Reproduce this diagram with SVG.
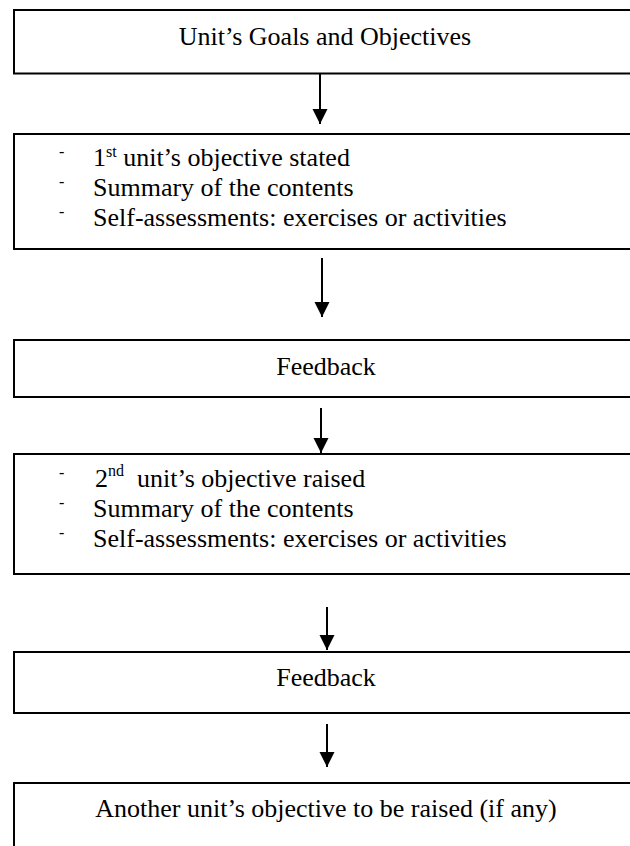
<svg xmlns="http://www.w3.org/2000/svg" width="630" height="846" viewBox="0 0 630 846">
<style>
.box{fill:#fff;stroke:#000;stroke-width:2}
.t{font-family:"Liberation Serif","Times New Roman",serif;font-size:26px;fill:#000}
.c{text-anchor:middle}
.d{font-family:"Liberation Serif","Times New Roman",serif;font-size:16px;fill:#000}
.sup{font-size:16px}
.conn{stroke:#000;stroke-width:2;fill:none;marker-end:url(#ah)}
</style>
<defs>
<marker id="ah" markerUnits="userSpaceOnUse" markerWidth="16" markerHeight="16" viewBox="0 0 16 16" refX="15" refY="7.5" orient="auto">
<path d="M0,0 L15,7.5 L0,15 z" fill="#000"/>
</marker>
</defs>
<rect width="630" height="846" fill="#fff"/>
<g id="n1">
<rect class="box" x="14" y="10" width="640" height="63.5"/>
<text class="t c" x="325" y="45">Unit’s Goals and Objectives</text>
</g>
<g id="n2">
<rect class="box" x="14" y="134" width="640" height="115"/>
<text class="d" x="59" y="157">-</text>
<text class="t" x="93" y="166">1<tspan class="sup" dy="-9">st</tspan><tspan dy="9"> unit’s objective stated</tspan></text>
<text class="d" x="59" y="187">-</text>
<text class="t" x="93" y="196">Summary of the contents</text>
<text class="d" x="59" y="217">-</text>
<text class="t" x="93" y="226">Self-assessments: exercises or activities</text>
</g>
<g id="n3">
<rect class="box" x="14" y="340" width="640" height="57"/>
<text class="t c" x="326" y="375">Feedback</text>
</g>
<g id="n4">
<rect class="box" x="14" y="454" width="640" height="120"/>
<text class="d" x="59" y="478">-</text>
<text class="t" x="95" y="487">2<tspan class="sup" dy="-11">nd</tspan><tspan dy="11">&#160; unit’s objective raised</tspan></text>
<text class="d" x="59" y="508">-</text>
<text class="t" x="93" y="517">Summary of the contents</text>
<text class="d" x="59" y="538">-</text>
<text class="t" x="93" y="547">Self-assessments: exercises or activities</text>
</g>
<g id="n5">
<rect class="box" x="14" y="652" width="640" height="61"/>
<text class="t c" x="326" y="686">Feedback</text>
</g>
<g id="n6">
<rect class="box" x="14" y="783" width="640" height="100"/>
<text class="t c" x="326" y="817">Another unit’s objective to be raised (if any)</text>
</g>
<g id="connectors">
<line class="conn" x1="320" y1="74" x2="320" y2="124"/>
<line class="conn" x1="322" y1="258" x2="322" y2="317"/>
<line class="conn" x1="321" y1="408" x2="321" y2="453"/>
<line class="conn" x1="327" y1="607" x2="327" y2="650"/>
<line class="conn" x1="327" y1="724" x2="327" y2="767"/>
</g>
</svg>
